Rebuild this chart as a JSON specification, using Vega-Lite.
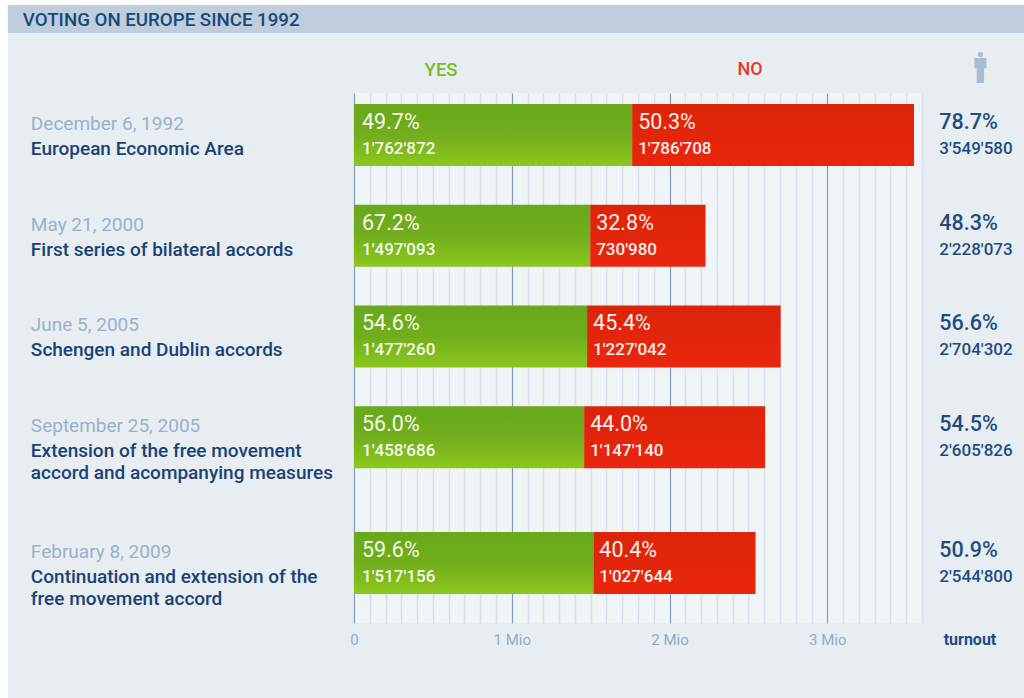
{
"$schema":"https://vega.github.io/schema/vega-lite/v6.json",
"width":568,"height":530,
"autosize":"none",
"padding":{"left":354,"top":93,"right":102,"bottom":75},
"background":"#e8edf2",
"config":{"view":{"fill":"#f1f4f7","stroke":null},"text":{"font":"Roboto"}},
"resolve":{"scale":{"y":"independent"}},
"layer":[
{"data":{"values":[
{"date":"December 6, 1992","title":["European Economic Area"],"yes":1762872,"no":1786708,"total":3549580,"yes_pct":"49.7%","no_pct":"50.3%","turnout":"78.7%","yes_text":"1'762'872","no_text":"1'786'708","total_text":"3'549'580"},
{"date":"May 21, 2000","title":["First series of bilateral accords"],"yes":1497093,"no":730980,"total":2228073,"yes_pct":"67.2%","no_pct":"32.8%","turnout":"48.3%","yes_text":"1'497'093","no_text":"730'980","total_text":"2'228'073"},
{"date":"June 5, 2005","title":["Schengen and Dublin accords"],"yes":1477260,"no":1227042,"total":2704302,"yes_pct":"54.6%","no_pct":"45.4%","turnout":"56.6%","yes_text":"1'477'260","no_text":"1'227'042","total_text":"2'704'302"},
{"date":"September 25, 2005","title":["Extension of the free movement","accord and acompanying measures"],"yes":1458686,"no":1147140,"total":2605826,"yes_pct":"56.0%","no_pct":"44.0%","turnout":"54.5%","yes_text":"1'458'686","no_text":"1'147'140","total_text":"2'605'826"},
{"date":"February 8, 2009","title":["Continuation and extension of the","free movement accord"],"yes":1517156,"no":1027644,"total":2544800,"yes_pct":"59.6%","no_pct":"40.4%","turnout":"50.9%","yes_text":"1'517'156","no_text":"1'027'644","total_text":"2'544'800"}
]},
"encoding":{"y":{"field":"date","type":"nominal","axis":null,"scale":{"type":"point","padding":0.525,"align":0.636,"domain":[" 0","December 6, 1992"," 1"," 2"," 3","May 21, 2000"," 4"," 5"," 6","June 5, 2005"," 7"," 8"," 9","September 25, 2005"," 10"," 11"," 12"," 13","February 8, 2009"," 14"," 15"]}}},
"layer":[
{"mark":{"type":"bar","orient":"horizontal","height":62,"color":{"gradient":"linear","x1":0,"y1":0,"x2":0,"y2":1,"stops":[{"offset":0,"color":"#68a81d"},{"offset":0.5,"color":"#72ae1c"},{"offset":1,"color":"#8cc71e"}]}},
"encoding":{"x":{"field":"yes","type":"quantitative","stack":null,"scale":{"domain":[0,3600000],"nice":false},"axis":{"values":[0,100000,200000,300000,400000,500000,600000,700000,800000,900000,1000000,1100000,1200000,1300000,1400000,1500000,1600000,1700000,1800000,1900000,2000000,2100000,2200000,2300000,2400000,2500000,2600000,2700000,2800000,2900000,3000000,3100000,3200000,3300000,3400000,3500000,3600000],"tickCount":40,"title":null,"orient":"bottom","domain":false,"ticks":false,"grid":true,"gridColor":{"condition":{"test":"datum.value % 1000000 === 0","value":"#7f9cbf"},"value":"#d5e0ec"},"gridWidth":{"condition":{"test":"datum.value % 1000000 === 0","value":1.2},"value":1.5},"labelOverlap":false,"labelFont":"Roboto","labelFontSize":15,"labelColor":"#94abc6","labelPadding":9,"labelFlush":false,"labelExpr":"datum.value % 1000000 === 0 ? (datum.value === 0 ? '0' : (datum.value / 1000000) + ' Mio') : ''"}},"x2":{"datum":0}}},
{"mark":{"type":"bar","orient":"horizontal","height":62,"color":{"gradient":"linear","x1":0,"y1":0,"x2":0,"y2":1,"stops":[{"offset":0,"color":"#dc2409"},{"offset":1,"color":"#e9260e"}]}},
"encoding":{"x":{"field":"yes","type":"quantitative"},"x2":{"field":"total"}}},
{"mark":{"type":"text","align":"left","baseline":"middle","dx":8,"dy":-12,"fontSize":21.5,"color":"#f4f8e8"},"encoding":{"x":{"datum":0,"type":"quantitative"},"text":{"field":"yes_pct"}}},
{"mark":{"type":"text","align":"left","baseline":"middle","dx":8,"dy":14,"fontSize":17,"fontWeight":500,"color":"#f4f8e8"},"encoding":{"x":{"datum":0,"type":"quantitative"},"text":{"field":"yes_text"}}},
{"mark":{"type":"text","align":"left","baseline":"middle","dx":6,"dy":-12,"fontSize":21.5,"color":"#fdeee8"},"encoding":{"x":{"field":"yes","type":"quantitative"},"text":{"field":"no_pct"}}},
{"mark":{"type":"text","align":"left","baseline":"middle","dx":6,"dy":14,"fontSize":17,"fontWeight":500,"color":"#fdeee8"},"encoding":{"x":{"field":"yes","type":"quantitative"},"text":{"field":"no_text"}}},
{"mark":{"type":"text","align":"left","baseline":"middle","dy":-12,"fontSize":21.5,"fontWeight":500,"color":"#1f4c80"},"encoding":{"x":{"datum":3709600,"type":"quantitative"},"text":{"field":"turnout"}}},
{"mark":{"type":"text","align":"left","baseline":"middle","dy":14,"fontSize":17,"fontWeight":500,"color":"#1f4c80"},"encoding":{"x":{"datum":3709600,"type":"quantitative"},"text":{"field":"total_text"}}},
{"mark":{"type":"text","align":"left","baseline":"middle","dy":-11,"fontSize":19,"color":"#9bb1ca"},"encoding":{"x":{"datum":-2048000,"type":"quantitative"},"text":{"field":"date"}}},
{"mark":{"type":"text","align":"left","baseline":"alphabetic","dy":20,"fontSize":19,"fontWeight":500,"lineHeight":22,"color":"#1a4276"},"encoding":{"x":{"datum":-2048000,"type":"quantitative"},"text":{"field":"title"}}}
]},
{"data":{"values":[{}]},
"encoding":{"y":{"datum":0,"type":"quantitative","axis":null,"scale":{"domain":[0,530],"reverse":true}}},
"layer":[
{"mark":{"type":"rect","color":"#ffffff"},"encoding":{"x":{"datum":-2244700,"type":"quantitative"},"x2":{"datum":-2194000},"y":{"datum":-93,"type":"quantitative","axis":null,"scale":{"domain":[0,530],"reverse":true}},"y2":{"datum":605}}},
{"mark":{"type":"rect","color":"#ffffff"},"encoding":{"x":{"datum":-2244700,"type":"quantitative"},"x2":{"datum":4250000},"y":{"datum":-93,"type":"quantitative","axis":null,"scale":{"domain":[0,530],"reverse":true}},"y2":{"datum":-88}}},
{"mark":{"type":"rect","color":"#bfcddd"},"encoding":{"x":{"datum":-2194000,"type":"quantitative"},"x2":{"datum":4250000},"y":{"datum":-88,"type":"quantitative","axis":null,"scale":{"domain":[0,530],"reverse":true}},"y2":{"datum":-60}}},
{"mark":{"type":"text","text":"VOTING ON EUROPE SINCE 1992","align":"left","baseline":"middle","fontSize":18.7,"fontWeight":500,"color":"#164a78"},"encoding":{"x":{"datum":-2099000,"type":"quantitative"},"y":{"datum":-73,"type":"quantitative","axis":null,"scale":{"domain":[0,530],"reverse":true}}}},
{"mark":{"type":"text","text":"YES","align":"center","baseline":"middle","fontSize":18.5,"fontWeight":500,"color":"#7db928"},"encoding":{"x":{"datum":551700,"type":"quantitative"},"y":{"datum":-23,"type":"quantitative","axis":null,"scale":{"domain":[0,530],"reverse":true}}}},
{"mark":{"type":"text","text":"NO","align":"center","baseline":"middle","fontSize":18,"fontWeight":500,"color":"#e8362a"},"encoding":{"x":{"datum":2511000,"type":"quantitative"},"y":{"datum":-23,"type":"quantitative","axis":null,"scale":{"domain":[0,530],"reverse":true}}}},
{"mark":{"type":"text","text":"turnout","align":"center","baseline":"middle","fontSize":16,"fontWeight":700,"color":"#1f4c80"},"encoding":{"x":{"datum":3904000,"type":"quantitative"},"y":{"datum":547,"type":"quantitative","axis":null,"scale":{"domain":[0,530],"reverse":true}}}},
{"mark":{"type":"point","filled":true,"opacity":1,"size":961,"color":"#a9bdd2","shape":"M-0.17,-0.84 A0.17,0.17 0 1,1 0.17,-0.84 A0.17,0.17 0 1,1 -0.17,-0.84 Z M-0.39,-0.62 L0.39,-0.62 L0.39,0.05 L0.24,0.05 L0.24,1 L-0.24,1 L-0.24,0.05 L-0.39,0.05 Z"},"encoding":{"x":{"datum":3970000,"type":"quantitative"},"y":{"datum":-25.5,"type":"quantitative","axis":null,"scale":{"domain":[0,530],"reverse":true}}}}
]}
]
}
